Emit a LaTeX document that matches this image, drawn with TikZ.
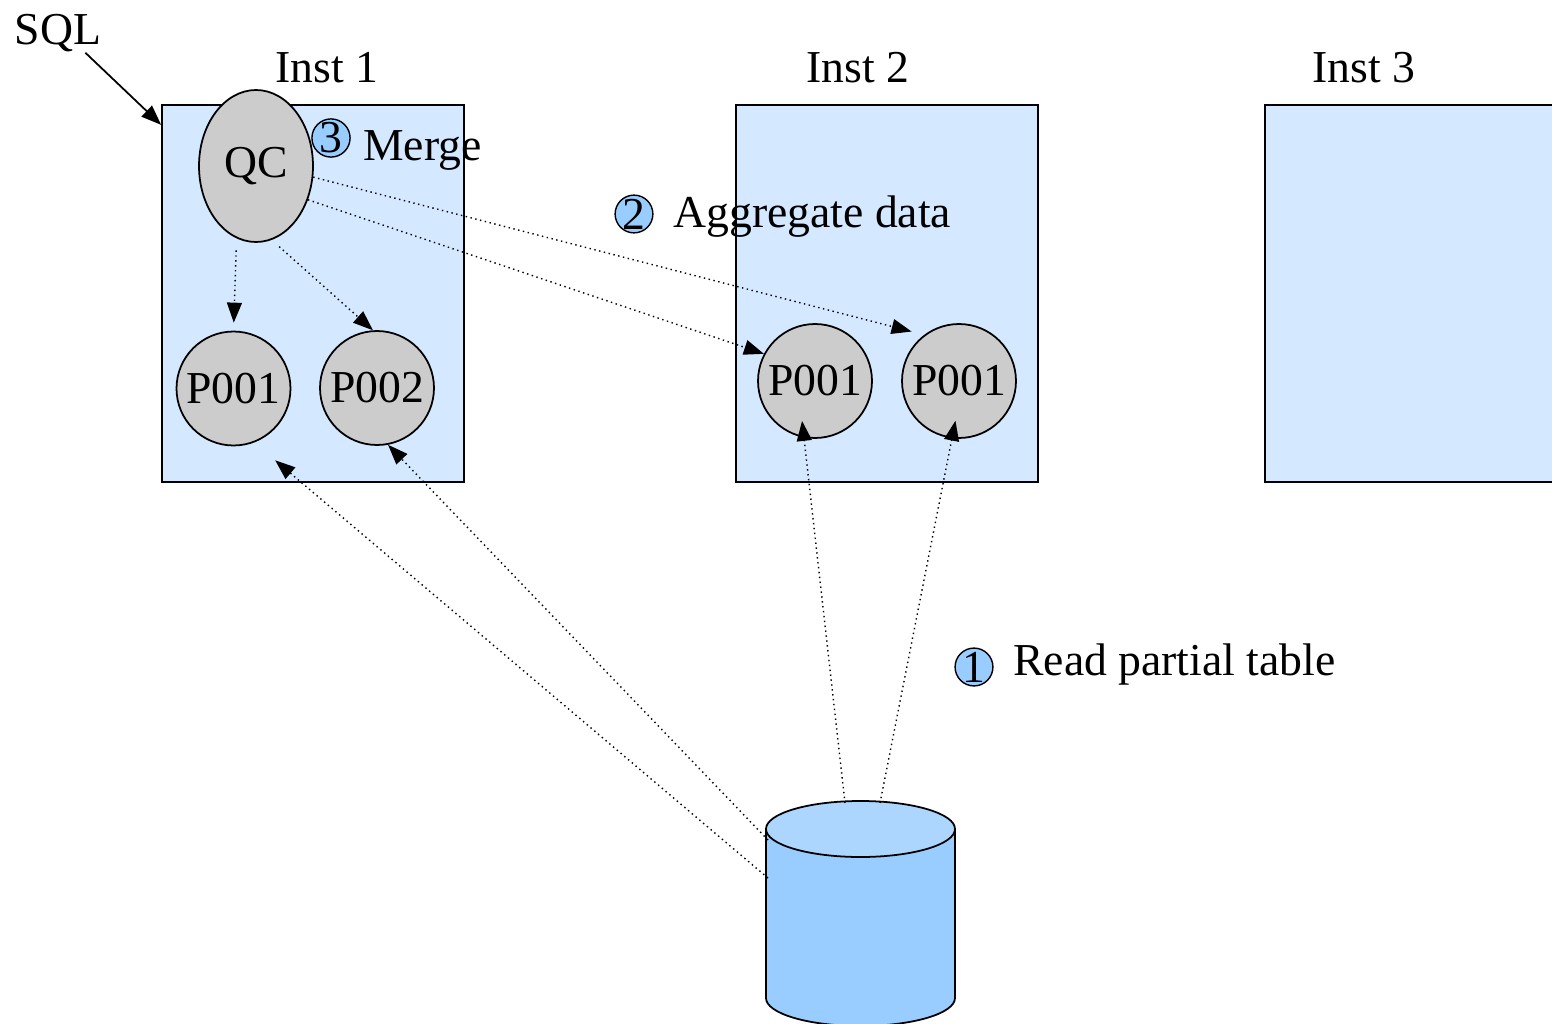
\documentclass[tikz,border=0pt]{standalone}
\usepackage{fontspec}
\setmainfont{Liberation Serif}
\usetikzlibrary{arrows.meta,shapes.geometric}
\definecolor{boxblue}{RGB}{212,233,255}
\definecolor{numblue}{RGB}{153,204,255}
\definecolor{dbtop}{RGB}{173,214,255}
\colorlet{procgray}{black!20}
\tikzset{
    every node/.style={font=\fontsize{26}{31}\selectfont},
    inst/.style={rectangle, draw, line width=1pt, fill=boxblue, minimum width=6.04cm, minimum height=7.54cm},
    proc/.style={circle, draw, line width=1pt, fill=procgray, inner sep=0pt, minimum size=2.28cm},
    qcoord/.style={ellipse, draw, line width=1pt, fill=procgray, inner sep=0pt, minimum width=2.28cm, minimum height=3.04cm},
    num/.style={circle, draw, line width=0.8pt, fill=numblue, inner sep=0pt, minimum size=0.75cm},
    tag/.style={inner sep=0pt},
    flow/.style={-{Triangle[length=0.4cm, width=0.3cm]}, dotted, line width=0.8pt},
    feed/.style={-{Triangle[length=0.4cm, width=0.3cm]}, line width=1pt}
}

\begin{document}
\begin{tikzpicture}[x=0.02cm, y=-0.02cm]
\useasboundingbox (0,0) rectangle (1552,1024);
\clip (0,0) rectangle (1552,1024);

% instances
\node[inst] at (313,293.5) (box1) {};
\node[inst] at (887,293.5) (box2) {};
\node[inst] at (1416,293.5) (box3) {};
\node[tag,anchor=base] at (327,83) (inst1) {Inst 1};
\node[tag,anchor=base] at (858,83) (inst2) {Inst 2};
\node[tag,anchor=base] at (1364,83) (inst3) {Inst 3};
\node[tag,anchor=base] at (58,45) (sql) {SQL};

% database
\fill[numblue] (766,829) rectangle (955,998);
\fill[numblue] (860.5,998) ellipse[x radius=94.5, y radius=28];
\draw[line width=1pt] (766,829) -- (766,998) arc[start angle=180, end angle=0, x radius=94.5, y radius=28] -- (955,829);
\draw[line width=1pt, fill=dbtop] (860.5,829) ellipse[x radius=94.5, y radius=28];
\coordinate (c1) at (845,803);
\coordinate (c2) at (880,803);
\coordinate (c3) at (768,840);
\coordinate (c4) at (768,878);

% processes
\node[qcoord] at (256,166) (qc) {QC};
\node[proc] at (233.5,388.5) (p11) {P001};
\node[proc] at (377,388) (p12) {P002};
\node[proc] at (815,381) (p21) {P001};
\node[proc] at (959,381) (p22) {P001};

% steps
\node[num] at (331,138) (n3) {3};
\node[tag,anchor=base west] at (363,160) (merge) {Merge};
\node[num] at (634,214) (n2) {2};
\node[tag,anchor=base west] at (673,227) (aggr) {Aggregate data};
\node[num] at (974,667) (n1) {1};
\node[tag,anchor=base west] at (1013,675) (read) {Read partial table};

\draw[feed] (sql.-35) -- (box1.132);
\draw[flow, shorten <=0.24cm, shorten >=0.16cm] (qc.-105) -- (p11.north);
\draw[flow, shorten <=0.2cm] (qc.-78) -- (p12.94);
\draw[flow] (qc.-33) -- (p21.152);
\draw[flow, shorten >=0.26cm] (qc.-11) -- (p22.127);
\draw[flow, shorten >=-0.34cm] (c1) -- (p21.-101);
\draw[flow, shorten >=-0.36cm] (c2) -- (p22.-97);
\draw[flow] (c3) -- (p12.-79);
\draw[flow, shorten >=0.55cm] (c4) -- (p11.-69);
\end{tikzpicture}
\end{document}
